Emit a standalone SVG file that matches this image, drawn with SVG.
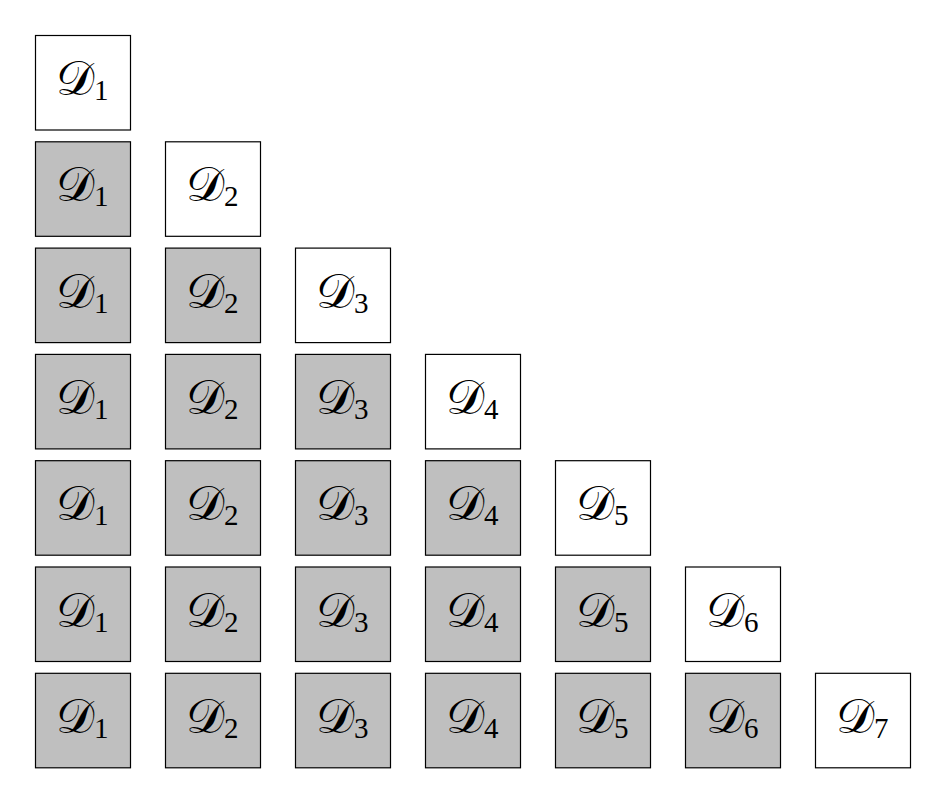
<svg xmlns="http://www.w3.org/2000/svg" width="946" height="804" viewBox="0 0 946 804">
<style>
.b{stroke:#000;stroke-width:1.2}
.w{fill:#fff}
.g{fill:#bfbfbf}
.t{font-family:"DejaVu Serif","Liberation Serif",serif;font-size:48px;fill:#000}
.s{font-family:"Liberation Serif",serif;font-size:29px}
</style>
<rect width="946" height="804" fill="#fff"/>
<g id="r1">
<g id="r1c1"><rect class="b w" x="35.5" y="35.5" width="95" height="94.5"/><text class="t" x="56" y="95">𝒟<tspan class="s" dy="5">1</tspan></text></g>
</g>
<g id="r2">
<g id="r2c1"><rect class="b g" x="35.5" y="141.8" width="95" height="94.5"/><text class="t" x="56" y="201.3">𝒟<tspan class="s" dy="5">1</tspan></text></g>
<g id="r2c2"><rect class="b w" x="165.5" y="141.8" width="95" height="94.5"/><text class="t" x="186" y="201.3">𝒟<tspan class="s" dy="5">2</tspan></text></g>
</g>
<g id="r3">
<g id="r3c1"><rect class="b g" x="35.5" y="248.1" width="95" height="94.5"/><text class="t" x="56" y="307.6">𝒟<tspan class="s" dy="5">1</tspan></text></g>
<g id="r3c2"><rect class="b g" x="165.5" y="248.1" width="95" height="94.5"/><text class="t" x="186" y="307.6">𝒟<tspan class="s" dy="5">2</tspan></text></g>
<g id="r3c3"><rect class="b w" x="295.5" y="248.1" width="95" height="94.5"/><text class="t" x="316" y="307.6">𝒟<tspan class="s" dy="5">3</tspan></text></g>
</g>
<g id="r4">
<g id="r4c1"><rect class="b g" x="35.5" y="354.4" width="95" height="94.5"/><text class="t" x="56" y="413.9">𝒟<tspan class="s" dy="5">1</tspan></text></g>
<g id="r4c2"><rect class="b g" x="165.5" y="354.4" width="95" height="94.5"/><text class="t" x="186" y="413.9">𝒟<tspan class="s" dy="5">2</tspan></text></g>
<g id="r4c3"><rect class="b g" x="295.5" y="354.4" width="95" height="94.5"/><text class="t" x="316" y="413.9">𝒟<tspan class="s" dy="5">3</tspan></text></g>
<g id="r4c4"><rect class="b w" x="425.5" y="354.4" width="95" height="94.5"/><text class="t" x="446" y="413.9">𝒟<tspan class="s" dy="5">4</tspan></text></g>
</g>
<g id="r5">
<g id="r5c1"><rect class="b g" x="35.5" y="460.7" width="95" height="94.5"/><text class="t" x="56" y="520.2">𝒟<tspan class="s" dy="5">1</tspan></text></g>
<g id="r5c2"><rect class="b g" x="165.5" y="460.7" width="95" height="94.5"/><text class="t" x="186" y="520.2">𝒟<tspan class="s" dy="5">2</tspan></text></g>
<g id="r5c3"><rect class="b g" x="295.5" y="460.7" width="95" height="94.5"/><text class="t" x="316" y="520.2">𝒟<tspan class="s" dy="5">3</tspan></text></g>
<g id="r5c4"><rect class="b g" x="425.5" y="460.7" width="95" height="94.5"/><text class="t" x="446" y="520.2">𝒟<tspan class="s" dy="5">4</tspan></text></g>
<g id="r5c5"><rect class="b w" x="555.5" y="460.7" width="95" height="94.5"/><text class="t" x="576" y="520.2">𝒟<tspan class="s" dy="5">5</tspan></text></g>
</g>
<g id="r6">
<g id="r6c1"><rect class="b g" x="35.5" y="567" width="95" height="94.5"/><text class="t" x="56" y="626.5">𝒟<tspan class="s" dy="5">1</tspan></text></g>
<g id="r6c2"><rect class="b g" x="165.5" y="567" width="95" height="94.5"/><text class="t" x="186" y="626.5">𝒟<tspan class="s" dy="5">2</tspan></text></g>
<g id="r6c3"><rect class="b g" x="295.5" y="567" width="95" height="94.5"/><text class="t" x="316" y="626.5">𝒟<tspan class="s" dy="5">3</tspan></text></g>
<g id="r6c4"><rect class="b g" x="425.5" y="567" width="95" height="94.5"/><text class="t" x="446" y="626.5">𝒟<tspan class="s" dy="5">4</tspan></text></g>
<g id="r6c5"><rect class="b g" x="555.5" y="567" width="95" height="94.5"/><text class="t" x="576" y="626.5">𝒟<tspan class="s" dy="5">5</tspan></text></g>
<g id="r6c6"><rect class="b w" x="685.5" y="567" width="95" height="94.5"/><text class="t" x="706" y="626.5">𝒟<tspan class="s" dy="5">6</tspan></text></g>
</g>
<g id="r7">
<g id="r7c1"><rect class="b g" x="35.5" y="673.3" width="95" height="94.5"/><text class="t" x="56" y="732.8">𝒟<tspan class="s" dy="5">1</tspan></text></g>
<g id="r7c2"><rect class="b g" x="165.5" y="673.3" width="95" height="94.5"/><text class="t" x="186" y="732.8">𝒟<tspan class="s" dy="5">2</tspan></text></g>
<g id="r7c3"><rect class="b g" x="295.5" y="673.3" width="95" height="94.5"/><text class="t" x="316" y="732.8">𝒟<tspan class="s" dy="5">3</tspan></text></g>
<g id="r7c4"><rect class="b g" x="425.5" y="673.3" width="95" height="94.5"/><text class="t" x="446" y="732.8">𝒟<tspan class="s" dy="5">4</tspan></text></g>
<g id="r7c5"><rect class="b g" x="555.5" y="673.3" width="95" height="94.5"/><text class="t" x="576" y="732.8">𝒟<tspan class="s" dy="5">5</tspan></text></g>
<g id="r7c6"><rect class="b g" x="685.5" y="673.3" width="95" height="94.5"/><text class="t" x="706" y="732.8">𝒟<tspan class="s" dy="5">6</tspan></text></g>
<g id="r7c7"><rect class="b w" x="815.5" y="673.3" width="95" height="94.5"/><text class="t" x="836" y="732.8">𝒟<tspan class="s" dy="5">7</tspan></text></g>
</g>
</svg>
